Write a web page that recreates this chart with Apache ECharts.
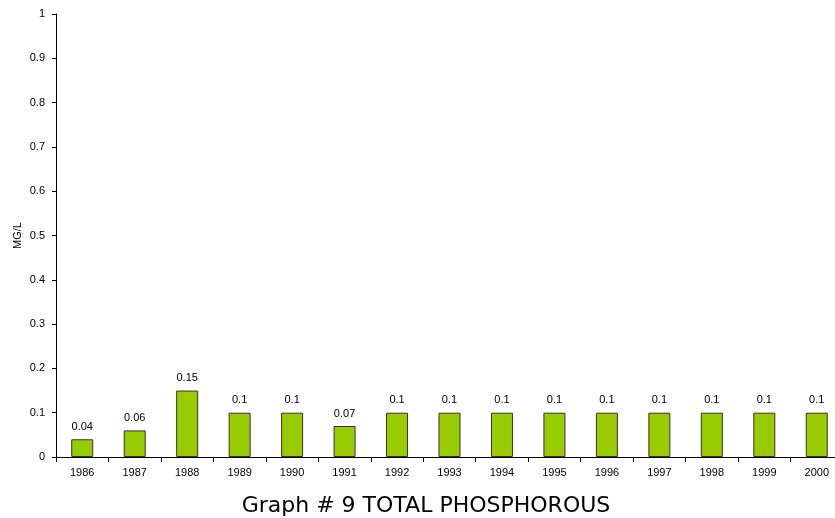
<!DOCTYPE html>
<html><head><meta charset="utf-8">
<script src="https://cdn.jsdelivr.net/npm/echarts@6/dist/echarts.min.js"></script>
<style>html,body{margin:0;padding:0;background:#fff;overflow:hidden}#c{width:850px;height:518px}</style>
</head><body><div id="c"></div>
<script>
const years = ['1986','1987','1988','1989','1990','1991','1992','1993','1994','1995','1996','1997','1998','1999','2000'];
const values = [0.04,0.06,0.15,0.1,0.1,0.07,0.1,0.1,0.1,0.1,0.1,0.1,0.1,0.1,0.1];
const yTicks = [0,0.1,0.2,0.3,0.4,0.5,0.6,0.7,0.8,0.9,1];
const chart = echarts.init(document.getElementById('c'));
chart.setOption({
  animation:false,
  title:{text:'Graph # 9 TOTAL PHOSPHOROUS',left:421,textAlign:'center',top:490,
    textStyle:{fontFamily:'DejaVu Sans',fontWeight:'normal',fontSize:22,color:'#000'}},
  grid:{left:56,top:14,width:787,height:443},
  xAxis:{type:'category',data:years,
    axisLine:{lineStyle:{color:'#000',width:1}},
    axisTick:{show:true,length:5,lineStyle:{color:'#000'}},
    axisLabel:{color:'#000',fontSize:11,fontFamily:'Liberation Sans',margin:10}},
  yAxis:{type:'value',min:0,max:1,interval:0.1,name:'MG/L',nameLocation:'middle',nameGap:33,
    nameMoveOverlap:false,
    nameTextStyle:{color:'#000',fontSize:11,fontFamily:'Liberation Sans'},
    splitLine:{show:false},
    axisLine:{show:true,lineStyle:{color:'#000'}},
    axisTick:{show:true,length:4,lineStyle:{color:'#000'}},
    axisLabel:{color:'#000',fontSize:11,fontFamily:'Liberation Sans',margin:11,
      formatter:v=>{const t=yTicks.find(x=>Math.abs(x-v)<1e-9);return t===undefined?'':String(t);}}},
  series:[{type:'bar',data:values,barWidth:22,
    itemStyle:{color:'#99cc00',borderColor:'#333',borderWidth:1},
    label:{show:true,position:'top',distance:7,color:'#000',fontSize:11,fontFamily:'Liberation Sans'}}]
});
</script></body></html>
